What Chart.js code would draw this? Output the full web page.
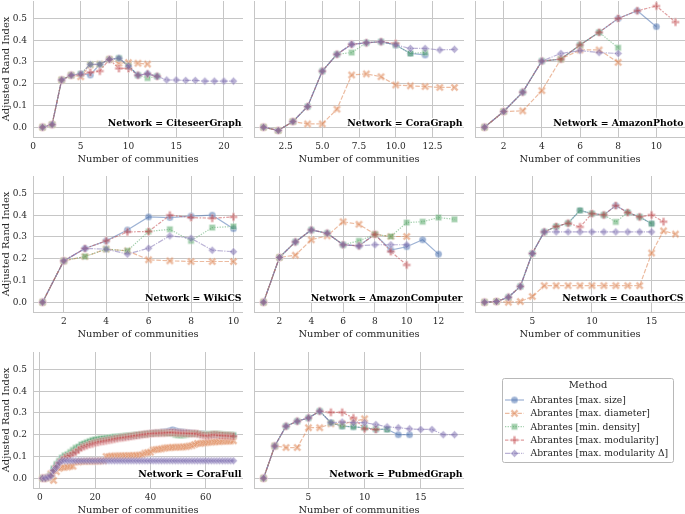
<!DOCTYPE html>
<html>
<head>
<meta charset="utf-8">
<script src="https://cdn.jsdelivr.net/npm/chart.js@4.4.0/dist/chart.umd.min.js"></script>
<style>
  body { margin: 0; background: #fff; width: 685px; height: 514px; overflow: hidden; position: relative; }
  canvas { position: absolute; }
</style>
</head>
<body>
<script>
// methods (hue levels) and networks (facets)
var methods = ['Abrantes [max. size]', 'Abrantes [max. diameter]', 'Abrantes [min. density]',
               'Abrantes [max. modularity]', 'Abrantes [max. modularity \u0394]'];
var networks = ['CiteseerGraph', 'CoraGraph', 'AmazonPhoto', 'WikiCS', 'AmazonComputer',
                'CoauthorCS', 'CoraFull', 'PubmedGraph'];

// tick labels
var yTicks = [0, 0.1, 0.2, 0.3, 0.4, 0.5];
var citeseerXTicks = [0, 5, 10, 15, 20];
var coraXTicks = [2.5, 5, 7.5, 10, 12.5];
var photoXTicks = [2, 4, 6, 8, 10];
var wikiXTicks = [2, 4, 6, 8, 10];
var computerXTicks = [2, 4, 6, 8, 10, 12];
var coauthorXTicks = [5, 10, 15];
var coraFullXTicks = [0, 20, 40, 60];
var pubmedXTicks = [5, 10, 15];

// values: index 0 = 1 community, index 1 = 2 communities, ...
var citeseerSize       = [0, 0.012, 0.217, 0.239, 0.245, 0.24, 0.289, 0.312, 0.317, 0.281, 0.239, 0.245, 0.234];
var citeseerDiameter   = [0, 0.012, 0.217, 0.239, 0.232, 0.286, 0.29, 0.312, 0.294, 0.297, 0.294, 0.29];
var citeseerDensity    = [0, 0.012, 0.217, 0.239, 0.245, 0.289, 0.289, 0.312, 0.317, 0.281, 0.239, 0.226, 0.234];
var citeseerModularity = [0, 0.012, 0.217, 0.239, 0.24, 0.252, 0.258, 0.312, 0.27, 0.27, 0.239, 0.245, 0.234];
var citeseerModDelta   = [0, 0.012, 0.217, 0.239, 0.245, 0.289, 0.289, 0.312, 0.317, 0.281, 0.239, 0.245, 0.234,
                          0.217, 0.217, 0.215, 0.215, 0.212, 0.212, 0.212, 0.212];

var coraSize       = [0, -0.015, 0.026, 0.095, 0.258, 0.335, 0.381, 0.388, 0.393, 0.378, 0.339, 0.332];
var coraDiameter   = [0, -0.015, 0.026, 0.015, 0.015, 0.083, 0.24, 0.245, 0.232, 0.194, 0.19, 0.187, 0.183, 0.183];
var coraDensity    = [0, -0.015, 0.026, 0.095, 0.258, 0.335, 0.343, 0.388, 0.393, 0.378, 0.339, 0.343];
var coraModularity = [0, -0.015, 0.026, 0.095, 0.258, 0.335, 0.381, 0.388, 0.393, 0.385];
var coraModDelta   = [0, -0.015, 0.026, 0.095, 0.258, 0.335, 0.381, 0.388, 0.393, 0.378, 0.362, 0.362, 0.355, 0.358];

var photoSize       = [0, 0.072, 0.161, 0.304, 0.313, 0.378, 0.436, 0.5, 0.535, 0.462];
var photoDiameter   = [0, 0.072, 0.075, 0.168, 0.313, 0.355, 0.355, 0.298];
var photoDensity    = [0, 0.072, 0.161, 0.304, 0.313, 0.378, 0.436, 0.365];
var photoModularity = [0, 0.072, 0.161, 0.304, 0.313, 0.378, 0.436, 0.5, 0.535, 0.557, 0.483];
var photoModDelta   = [0, 0.072, 0.161, 0.304, 0.339, 0.352, 0.343, 0.339];

var wikiSize       = [0, 0.19, 0.247, 0.282, 0.332, 0.392, 0.389, 0.396, 0.4, 0.338];
var wikiDiameter   = [0, 0.19, 0.21, 0.244, 0.236, 0.195, 0.19, 0.187, 0.187, 0.187];
var wikiDensity    = [0, 0.19, 0.21, 0.244, 0.236, 0.325, 0.335, 0.282, 0.343, 0.348];
var wikiModularity = [0, 0.19, 0.247, 0.282, 0.323, 0.325, 0.4, 0.389, 0.386, 0.392];
var wikiModDelta   = [0, 0.19, 0.247, 0.244, 0.221, 0.248, 0.305, 0.294, 0.239, 0.232];

var computerSize       = [0, 0.206, 0.277, 0.332, 0.317, 0.264, 0.259, 0.312, 0.24, 0.255, 0.287, 0.221];
var computerDiameter   = [0, 0.206, 0.216, 0.287, 0.305, 0.37, 0.358, 0.312, 0.302, 0.302];
var computerDensity    = [0, 0.206, 0.277, 0.332, 0.317, 0.264, 0.282, 0.312, 0.302, 0.366, 0.37, 0.389, 0.381];
var computerModularity = [0, 0.206, 0.277, 0.332, 0.317, 0.264, 0.259, 0.312, 0.233, 0.171];
var computerModDelta   = [0, 0.206, 0.277, 0.332, 0.317, 0.264, 0.259, 0.264, 0.264, 0.264];

var coauthorSize       = [0, 0.003, 0.023, 0.073, 0.224, 0.323, 0.348, 0.363, 0.422, 0.407, 0.401, 0.444, 0.412, 0.392, 0.361];
var coauthorDiameter   = [0, 0.003, 0, 0.003, 0.026, 0.076, 0.076, 0.076, 0.076, 0.076, 0.076, 0.076, 0.076, 0.076, 0.226, 0.328, 0.313];
var coauthorDensity    = [0, 0.003, 0.023, 0.073, 0.224, 0.323, 0.348, 0.363, 0.422, 0.407, 0.401, 0.369, 0.412, 0.392, 0.361];
var coauthorModularity = [0, 0.003, 0.023, 0.073, 0.224, 0.323, 0.348, 0.363, 0.346, 0.407, 0.401, 0.444, 0.412, 0.392, 0.401, 0.37];
var coauthorModDelta   = [0, 0.003, 0.023, 0.073, 0.224, 0.323, 0.323, 0.323, 0.323, 0.323, 0.323, 0.323, 0.323, 0.323, 0.323];

var coraFullSize = [
  0, 0, 0.005, 0.015, 0.04, 0.06, 0.075, 0.09, 0.1, 0.105,
  0.11, 0.12, 0.13, 0.14, 0.15, 0.155, 0.16, 0.165, 0.17, 0.175,
  0.175, 0.178, 0.18, 0.182, 0.183, 0.185, 0.186, 0.188, 0.19, 0.19,
  0.192, 0.193, 0.195, 0.196, 0.198, 0.2, 0.201, 0.203, 0.205, 0.207,
  0.208, 0.21, 0.21, 0.212, 0.213, 0.215, 0.218, 0.222, 0.218, 0.215,
  0.213, 0.212, 0.21, 0.21, 0.208, 0.207, 0.205, 0.204, 0.203, 0.202,
  0.2, 0.2, 0.199, 0.198, 0.198, 0.197, 0.197, 0.196, 0.196, 0.195];
var coraFullDiameter = [
  0, 0, 0, 0.02, -0.01, 0.03, 0.045, 0.05, 0.05, 0.052,
  0.055, 0.055, 0.075, 0.075, 0.077, 0.077, 0.078, 0.078, 0.078, 0.078,
  0.078, 0.08, 0.08, 0.1, 0.1, 0.102, 0.102, 0.102, 0.103, 0.103,
  0.103, 0.104, 0.104, 0.105, 0.105, 0.106, 0.108, 0.115, 0.118, 0.12,
  0.13, 0.132, 0.133, 0.135, 0.138, 0.14, 0.14, 0.142, 0.142, 0.143,
  0.143, 0.144, 0.145, 0.148, 0.15, 0.155, 0.16, 0.16, 0.162, 0.163,
  0.165, 0.166, 0.167, 0.168, 0.168, 0.17, 0.17, 0.17, 0.171, 0.172];
var coraFullDensity = [
  0, 0, 0.005, 0.015, 0.045, 0.065, 0.08, 0.095, 0.105, 0.11,
  0.12, 0.13, 0.14, 0.145, 0.155, 0.16, 0.165, 0.17, 0.175, 0.178,
  0.18, 0.182, 0.183, 0.185, 0.186, 0.188, 0.19, 0.19, 0.192, 0.193,
  0.195, 0.196, 0.197, 0.198, 0.2, 0.201, 0.202, 0.203, 0.204, 0.205,
  0.206, 0.207, 0.207, 0.208, 0.208, 0.207, 0.206, 0.205, 0.2, 0.198,
  0.197, 0.198, 0.2, 0.203, 0.205, 0.205, 0.204, 0.203, 0.202, 0.202,
  0.202, 0.203, 0.204, 0.204, 0.203, 0.202, 0.201, 0.2, 0.2, 0.198];
var coraFullModularity = [
  0, 0, 0.005, 0.012, 0.035, 0.055, 0.07, 0.085, 0.095, 0.1,
  0.105, 0.115, 0.12, 0.13, 0.14, 0.145, 0.15, 0.155, 0.158, 0.162,
  0.165, 0.168, 0.17, 0.172, 0.175, 0.177, 0.18, 0.182, 0.185, 0.186,
  0.188, 0.19, 0.192, 0.194, 0.196, 0.198, 0.2, 0.202, 0.203, 0.205,
  0.206, 0.207, 0.207, 0.208, 0.208, 0.209, 0.21, 0.21, 0.209, 0.208,
  0.208, 0.207, 0.207, 0.206, 0.205, 0.205, 0.204, 0.2, 0.197, 0.195,
  0.195, 0.198, 0.2, 0.199, 0.197, 0.196, 0.195, 0.195, 0.194, 0.193];
var coraFullModDelta = [
  0, 0, 0.005, 0.01, 0.035, 0.05, 0.07, 0.08, 0.08, 0.08,
  0.08, 0.08, 0.08, 0.08, 0.08, 0.08, 0.08, 0.08, 0.08, 0.08,
  0.08, 0.08, 0.08, 0.08, 0.08, 0.08, 0.08, 0.08, 0.08, 0.08,
  0.08, 0.08, 0.08, 0.08, 0.08, 0.08, 0.08, 0.08, 0.08, 0.08,
  0.08, 0.08, 0.08, 0.08, 0.08, 0.08, 0.08, 0.08, 0.08, 0.08,
  0.08, 0.08, 0.08, 0.08, 0.08, 0.08, 0.08, 0.08, 0.08, 0.08,
  0.08, 0.08, 0.08, 0.08, 0.08, 0.08, 0.08, 0.08, 0.08, 0.08];

var pubmedSize       = [0, 0.148, 0.239, 0.262, 0.277, 0.308, 0.255, 0.239, 0.236, 0.232, 0.224, 0.224, 0.2, 0.2];
var pubmedDiameter   = [0, 0.148, 0.141, 0.141, 0.232, 0.232, 0.25, 0.25, 0.26, 0.273];
var pubmedDensity    = [0, 0.148, 0.239, 0.262, 0.277, 0.308, 0.255, 0.239, 0.236, 0.232, 0.227, 0.224];
var pubmedModularity = [0, 0.148, 0.239, 0.262, 0.277, 0.308, 0.303, 0.303, 0.277, 0.227, 0.224];
var pubmedModDelta   = [0, 0.148, 0.239, 0.262, 0.277, 0.308, 0.255, 0.258, 0.255, 0.255, 0.247, 0.236, 0.232,
                        0.227, 0.224, 0.224, 0.2, 0.2];

var panelSeries = [
  [citeseerSize, citeseerDiameter, citeseerDensity, citeseerModularity, citeseerModDelta],
  [coraSize, coraDiameter, coraDensity, coraModularity, coraModDelta],
  [photoSize, photoDiameter, photoDensity, photoModularity, photoModDelta],
  [wikiSize, wikiDiameter, wikiDensity, wikiModularity, wikiModDelta],
  [computerSize, computerDiameter, computerDensity, computerModularity, computerModDelta],
  [coauthorSize, coauthorDiameter, coauthorDensity, coauthorModularity, coauthorModDelta],
  [coraFullSize, coraFullDiameter, coraFullDensity, coraFullModularity, coraFullModDelta],
  [pubmedSize, pubmedDiameter, pubmedDensity, pubmedModularity, pubmedModDelta]
];
var panelXTicks = [citeseerXTicks, coraXTicks, photoXTicks, wikiXTicks, computerXTicks,
                   coauthorXTicks, coraFullXTicks, pubmedXTicks];

// styles
var FONT = '"DejaVu Serif", serif';
var INK = '#262626';
var GRID = '#c6c6c6';
var ALPHA = 0.55;
var rgb = ['76,114,176', '221,132,82', '85,168,104', '196,78,82', '129,114,179'];
var dashes = [[], [4.5, 1.7], [1.3, 1.3], [3.4, 1.4, 1.7, 1.4], [5.6, 1.2, 1.2, 1.2]];
var shapes = ['o', 'X', 's', 'P', 'D'];

var PW = 210, PH = 136, YW = 33, XH = 38;
var colX = [33, 254, 475];
var rowY = [1, 176, 352];

function plusPath(g, a, b) {
  g.moveTo(-a, -b); g.lineTo(a, -b); g.lineTo(a, -a); g.lineTo(b, -a);
  g.lineTo(b, a); g.lineTo(a, a); g.lineTo(a, b); g.lineTo(-a, b);
  g.lineTo(-a, a); g.lineTo(-b, a); g.lineTo(-b, -a); g.lineTo(-a, -a);
  g.closePath();
}

function makeMarker(shape, color) {
  var s = 11;
  var c = document.createElement('canvas');
  c.width = s; c.height = s;
  var g = c.getContext('2d');
  g.translate(s / 2, s / 2);
  g.beginPath();
  if (shape === 'o') {
    g.arc(0, 0, 3.6, 0, Math.PI * 2);
  } else if (shape === 's') {
    g.rect(-3.1, -3.1, 6.2, 6.2);
  } else if (shape === 'D') {
    g.moveTo(0, -4); g.lineTo(4, 0); g.lineTo(0, 4); g.lineTo(-4, 0); g.closePath();
  } else if (shape === 'P') {
    plusPath(g, 1.35, 4);
  } else if (shape === 'X') {
    g.rotate(Math.PI / 4);
    plusPath(g, 1.3, 4.4);
  }
  g.fillStyle = 'rgba(' + color + ',' + ALPHA + ')';
  g.fill();
  g.lineWidth = 0.6;
  g.strokeStyle = 'rgba(255,255,255,' + ALPHA + ')';
  g.stroke();
  return c;
}

var markers = shapes.map(function (sh, i) { return makeMarker(sh, rgb[i]); });

// panel label "Network = ..." in the lower right corner
var netLabel = {
  id: 'netLabel',
  afterDatasetsDraw: function (chart, args, opts) {
    var a = chart.chartArea, ctx = chart.ctx;
    ctx.save();
    ctx.font = 'bold 9.3px ' + FONT;
    ctx.textAlign = 'right';
    ctx.textBaseline = 'middle';
    ctx.lineJoin = 'round';
    ctx.lineWidth = 2.5;
    ctx.strokeStyle = '#fff';
    ctx.strokeText(opts.text, a.right - 1.5, a.bottom - 13.5);
    ctx.fillStyle = '#000';
    ctx.fillText(opts.text, a.right - 1.5, a.bottom - 13.5);
    ctx.restore();
  }
};

function makePanel(idx) {
  var col = idx % 3, row = Math.floor(idx / 3);
  var series = panelSeries[idx];
  var n = Math.max.apply(null, series.map(function (s) { return s.length; }));
  var xMin = 1 - 0.05 * (n - 1), xMax = n + 0.05 * (n - 1);
  var xt = panelXTicks[idx];
  var decimals = xt.some(function (v) { return v % 1 !== 0; }) ? 1 : 0;

  var cv = document.createElement('canvas');
  cv.width = YW + PW; cv.height = 1 + PH + XH;
  cv.style.width = cv.width + 'px'; cv.style.height = cv.height + 'px';
  cv.style.left = (colX[col] - YW) + 'px';
  cv.style.top = (rowY[row] - 1) + 'px';
  document.body.appendChild(cv);

  var datasets = series.map(function (vals, k) {
    return {
      label: methods[k],
      data: vals.map(function (v, i) { return { x: i + 1, y: v }; }),
      borderColor: 'rgba(' + rgb[k] + ',' + ALPHA + ')',
      borderWidth: 1.2,
      borderDash: dashes[k],
      pointStyle: markers[k],
      pointRadius: 3.5,
      tension: 0,
      fill: false,
      clip: false,
      order: 4 - k
    };
  });

  new Chart(cv, {
    type: 'line',
    data: { datasets: datasets },
    options: {
      responsive: false,
      animation: false,
      events: [],
      layout: { autoPadding: false, padding: { top: 1, left: 0, right: 0, bottom: 0 } },
      plugins: { legend: { display: false }, tooltip: { enabled: false }, netLabel: { text: 'Network = ' + networks[idx] } },
      scales: {
        x: {
          type: 'linear', min: xMin, max: xMax,
          afterBuildTicks: function (s) { s.ticks = xt.map(function (v) { return { value: v }; }); },
          afterFit: function (s) { s.height = XH; s.paddingLeft = 0; s.paddingRight = 0; },
          ticks: {
            font: { family: FONT, size: 9 }, color: INK, padding: 4.5, maxRotation: 0,
            callback: function (v) { return v.toFixed(decimals); }
          },
          grid: { color: GRID, lineWidth: 1, drawTicks: false },
          border: { display: true, color: GRID, width: 1 },
          title: { display: true, text: 'Number of communities', color: INK,
                   font: { family: FONT, size: 9.9 }, padding: { top: 0, bottom: 10 } }
        },
        y: {
          type: 'linear', min: -0.045, max: 0.58,
          afterBuildTicks: function (s) { s.ticks = yTicks.map(function (v) { return { value: v }; }); },
          afterFit: function (s) { s.width = YW; s.paddingTop = 0; s.paddingBottom = 0; },
          ticks: {
            display: col === 0,
            font: { family: FONT, size: 9 }, color: INK, padding: 6,
            callback: function (v) { return v.toFixed(1); }
          },
          grid: { color: GRID, lineWidth: 1, drawTicks: false },
          border: { display: true, color: GRID, width: 1 },
          title: { display: col === 0, text: 'Adjusted Rand Index', color: INK,
                   font: { family: FONT, size: 9.9 }, padding: { top: 0, bottom: 0 } }
        }
      }
    },
    plugins: [netLabel]
  });
}

for (var p = 0; p < networks.length; p++) makePanel(p);

// legend box drawn on its own chart
var methodLegend = {
  id: 'methodLegend',
  afterDraw: function (chart) {
    var ctx = chart.ctx;
    var bx = 7.5, by = 8.5, bw = 171, bh = 84;
    ctx.save();
    ctx.beginPath();
    ctx.roundRect(bx, by, bw, bh, 2);
    ctx.fillStyle = 'rgba(255,255,255,0.8)';
    ctx.fill();
    ctx.strokeStyle = '#b8b8b8';
    ctx.lineWidth = 1;
    ctx.stroke();
    ctx.fillStyle = INK;
    ctx.font = '9.9px ' + FONT;
    ctx.textAlign = 'center';
    ctx.textBaseline = 'middle';
    ctx.fillText('Method', bx + bw / 2, 15.5);
    ctx.font = '9.2px ' + FONT;
    ctx.textAlign = 'left';
    chart.data.datasets.forEach(function (ds, k) {
      var y = 30 + k * 13.35;
      ctx.beginPath();
      ctx.setLineDash(ds.borderDash);
      ctx.strokeStyle = ds.borderColor;
      ctx.lineWidth = 1.2;
      ctx.moveTo(10, y); ctx.lineTo(29, y);
      ctx.stroke();
      ctx.setLineDash([]);
      ctx.drawImage(ds.pointStyle, 19.5 - ds.pointStyle.width / 2, y - ds.pointStyle.height / 2);
      ctx.fillStyle = INK;
      ctx.fillText(ds.label, 35.5, y + 0.5);
    });
    ctx.restore();
  }
};

var lc = document.createElement('canvas');
lc.width = 190; lc.height = 100;
lc.style.width = '190px'; lc.style.height = '100px';
lc.style.left = '495px'; lc.style.top = '370px';
document.body.appendChild(lc);
new Chart(lc, {
  type: 'line',
  data: {
    datasets: methods.map(function (m, k) {
      return { label: m, data: [], borderColor: 'rgba(' + rgb[k] + ',' + ALPHA + ')', borderDash: dashes[k], pointStyle: markers[k] };
    })
  },
  options: {
    responsive: false, animation: false, events: [],
    layout: { autoPadding: false },
    plugins: { legend: { display: false }, tooltip: { enabled: false } },
    scales: { x: { display: false }, y: { display: false } }
  },
  plugins: [methodLegend]
});
</script>
</body>
</html>
